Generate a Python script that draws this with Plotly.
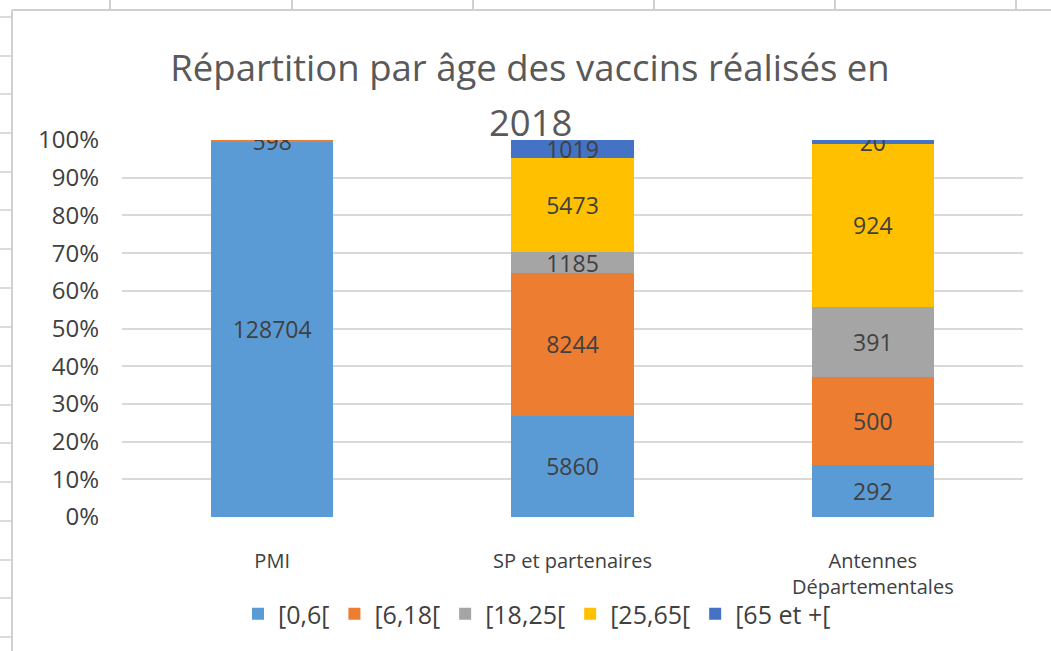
import plotly.graph_objects as go

categories = ["PMI", "SP et partenaires", "Antennes<br>Départementales"]
age_groups = ["[0,6[", "[6,18[", "[18,25[", "[25,65[", "[65 et +["]
values = {
    "[0,6[": [128704, 5860, 292],
    "[6,18[": [598, 8244, 500],
    "[18,25[": [0, 1185, 391],
    "[25,65[": [0, 5473, 924],
    "[65 et +[": [0, 1019, 20],
}
colors = ["#5B9BD5", "#ED7D31", "#A5A5A5", "#FFC000", "#4472C4"]
y_ticks = [0, 10, 20, 30, 40, 50, 60, 70, 80, 90, 100]

FONT = "Open Sans"
TXT = "#404040"

W, H = 1051, 651
L, R, T, B = 122, 28, 140, 134
PW, PH = W - L - R, H - T - B

def px(x):
    return (x - L) / PW

def py(y):
    return (H - B - y) / PH

fig = go.Figure()
for g, c in zip(age_groups, colors):
    v = values[g]
    fig.add_trace(go.Bar(
        name=g, x=categories, y=v, marker=dict(color=c, line=dict(width=0)),
        text=[str(n) if n else "" for n in v],
        textposition="inside", insidetextanchor="middle", textangle=0,
        constraintext="none",
        textfont=dict(family=FONT, size=23, color=TXT),
    ))

shapes = []
grid_col = "#d0d0d0"
shapes.append(dict(type="line", xref="paper", yref="paper", x0=px(12), x1=px(W), y0=py(10), y1=py(10),
                   line=dict(color=grid_col, width=2)))
shapes.append(dict(type="line", xref="paper", yref="paper", x0=px(12), x1=px(12), y0=py(10), y1=py(H),
                   line=dict(color=grid_col, width=2)))
for xc in [110, 292, 473, 654, 835, 1016]:
    shapes.append(dict(type="line", xref="paper", yref="paper", x0=px(xc), x1=px(xc), y0=py(0), y1=py(10),
                       line=dict(color=grid_col, width=2)))
for yr in [17, 56, 94, 133, 172, 210, 249, 288, 327, 366, 405, 443, 482, 521, 560, 598, 637]:
    shapes.append(dict(type="line", xref="paper", yref="paper", x0=px(0), x1=px(12), y0=py(yr), y1=py(yr),
                       line=dict(color=grid_col, width=1.5)))

fig.update_layout(
    width=W, height=H,
    barmode="stack", barnorm="percent", bargap=0.593,
    margin=dict(l=L, r=R, t=T, b=B, autoexpand=False),
    paper_bgcolor="white", plot_bgcolor="white",
    font=dict(family=FONT, color=TXT),
    title=dict(text="Répartition par âge des vaccins réalisés en", x=530 / W, xanchor="center",
               y=1 - 68 / H, yanchor="middle",
               font=dict(family=FONT, size=36.5, color="#595959")),
    annotations=[dict(text="2018", xref="paper", yref="paper", x=px(530), y=py(122),
                      xanchor="center", yanchor="middle", showarrow=False,
                      font=dict(family=FONT, size=36.5, color="#595959"))],
    xaxis=dict(showgrid=False, showline=False, ticks="", tickfont=dict(family=FONT, size=20, color=TXT),
               ticklabelstandoff=30),
    yaxis=dict(range=[0, 100], tickvals=y_ticks, ticktext=[f"{t}%" for t in y_ticks],
               showgrid=True, gridcolor="#d9d9d9", gridwidth=2, zeroline=False, showline=False,
               tickfont=dict(family=FONT, size=24, color=TXT), ticklabelstandoff=22),
    legend=dict(orientation="h", x=px(537), xanchor="center", y=py(614), yanchor="middle",
                font=dict(family=FONT, size=25, color=TXT), itemwidth=30, traceorder="normal",
                bgcolor="rgba(0,0,0,0)"),
    shapes=shapes,
    showlegend=True,
)
fig.write_html("out.html", config={"displayModeBar": False},
               post_script="document.body.style.margin='0';")
